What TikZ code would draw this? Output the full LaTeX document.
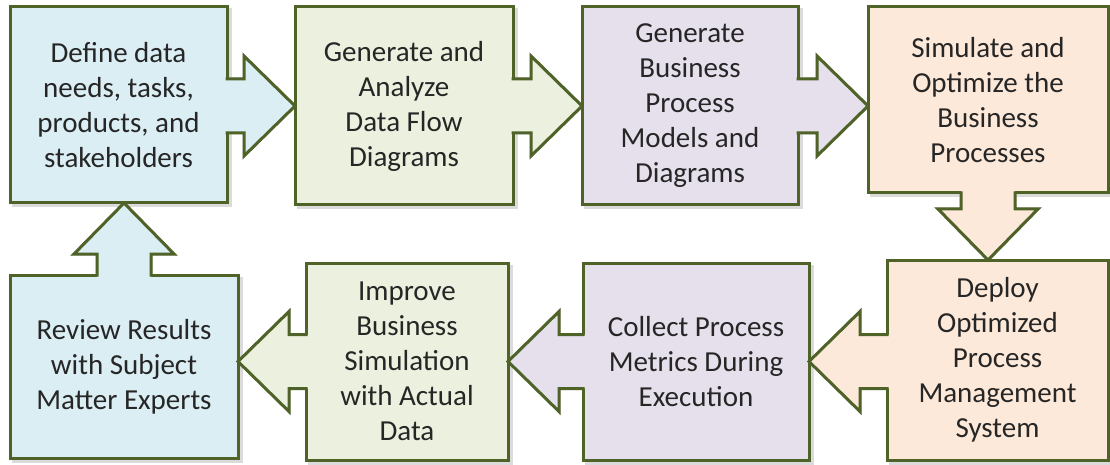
\documentclass[tikz,border=0pt]{standalone}
\usepackage{fontspec}
\setmainfont{Carlito}
\usetikzlibrary{calc}

\definecolor{linegreen}{HTML}{4F6228}
\definecolor{bluefill}{HTML}{DBEEF4}
\definecolor{greenfill}{HTML}{EBF1DE}
\definecolor{lilacfill}{HTML}{E5E0EC}
\definecolor{peachfill}{HTML}{FDE9D9}

\pgfdeclarelayer{shade}
\pgfsetlayers{shade,main}

% block arrow: #1 = start on the source box, #2 = tip on the target box, #3 = fill
\newcommand{\blockarrow}[3]{%
  \coordinate (ba-s) at (#1);
  \coordinate (ba-t) at (#2);
  \coordinate (ba-hb) at ($(ba-t)!51pt!(ba-s)$);
  \coordinate (ba-in) at ($(ba-s)!-3pt!(ba-t)$);
  \coordinate (ba-ln) at ($(ba-s)!-1.5pt!(ba-t)$);
  \coordinate (ba-1) at ($(ba-hb)!27pt!90:(ba-t)$);
  \coordinate (ba-2) at ($(ba-hb)!50pt!90:(ba-t)$);
  \coordinate (ba-3) at ($(ba-hb)!50pt!-90:(ba-t)$);
  \coordinate (ba-4) at ($(ba-hb)!27pt!-90:(ba-t)$);
  \begin{pgfonlayer}{shade}
    \filldraw[shadow, shift={(3pt,-3pt)}] ($(ba-in)!27pt!90:(ba-t)$) -- (ba-1) -- (ba-2)
      -- (ba-t) -- (ba-3) -- (ba-4) -- ($(ba-in)!27pt!-90:(ba-t)$) -- cycle;
  \end{pgfonlayer}
  \fill[#3] ($(ba-in)!27pt!90:(ba-t)$) -- (ba-1) -- (ba-2) -- (ba-t)
    -- (ba-3) -- (ba-4) -- ($(ba-in)!27pt!-90:(ba-t)$) -- cycle;
  \draw[border] ($(ba-ln)!27pt!90:(ba-t)$) -- (ba-1) -- (ba-2) -- (ba-t)
    -- (ba-3) -- (ba-4) -- ($(ba-ln)!27pt!-90:(ba-t)$);
}

\begin{document}
\begin{tikzpicture}[x=1pt, y=1pt]
\tikzstyle{stepbox} = [rectangle, draw = linegreen, line width = 3pt, outer sep = 0pt,
  inner sep = 0pt, align = center, text = black!85, font = \fontsize{29}{35}\selectfont]
\tikzstyle{border} = [draw = linegreen, line width = 3pt, line join = miter]
\tikzstyle{shadow} = [fill = black!28, draw = black!14, line width = 3pt]
\useasboundingbox (0, 0) rectangle (1110, 464);
% -----------------------------------
% Top row
\node[stepbox, fill = bluefill, minimum width = 217pt, minimum height = 196pt] (define) at (118.5, 359)
  {Define data\\needs, tasks,\\products, and\\stakeholders};
\node[stepbox, fill = greenfill, minimum width = 218pt, minimum height = 198pt] (flow) at (404, 358)
  {Generate and\\Analyze\\Data Flow\\Diagrams};
\node[stepbox, fill = lilacfill, minimum width = 216pt, minimum height = 198pt] (models) at (690, 358)
  {Generate\\Business\\Process\\Models and\\Diagrams};
\node[stepbox, fill = peachfill, minimum width = 240pt, minimum height = 186pt] (optimize) at (988, 364)
  {Simulate and\\Optimize the\\Business\\Processes};

% -----------------------------------
% Bottom row
\node[stepbox, fill = peachfill, minimum width = 221pt, minimum height = 200pt] (deploy) at (997.5, 104)
  {Deploy\\Optimized\\Process\\Management\\System};
\node[stepbox, fill = lilacfill, minimum width = 226pt, minimum height = 197pt] (collect) at (696, 102.5)
  {Collect Process\\Metrics During\\Execution};
\node[stepbox, fill = greenfill, minimum width = 202pt, minimum height = 197pt] (improve) at (407, 102.5)
  {Improve\\Business\\Simulation\\with Actual\\Data};
\node[stepbox, fill = bluefill, minimum width = 228pt, minimum height = 183pt] (review) at (124, 97.5)
  {Review Results\\with Subject\\Matter Experts};

% -----------------------------------
% Shadows
\begin{pgfonlayer}{shade}
\foreach \n in {define, flow, models, optimize, deploy, collect, improve, review}
  \filldraw[shadow] ([shift = {(3pt, -3pt)}]\n.south west) rectangle ([shift = {(3pt, -3pt)}]\n.north east);
\end{pgfonlayer}

% -----------------------------------
% Arrows
\blockarrow{define.east |- flow.west}{flow.west}{bluefill}
\blockarrow{flow.east}{models.west}{greenfill}
\blockarrow{models.east}{models.east -| optimize.west}{lilacfill}
\blockarrow{optimize.south}{optimize.south |- deploy.north}{peachfill}
\blockarrow{deploy.west |- collect.east}{collect.east}{peachfill}
\blockarrow{collect.west}{improve.east}{lilacfill}
\blockarrow{improve.west}{improve.west -| review.east}{greenfill}
\blockarrow{review.north}{review.north |- define.south}{bluefill}
% -----------------------------------
\end{tikzpicture}
\end{document}
